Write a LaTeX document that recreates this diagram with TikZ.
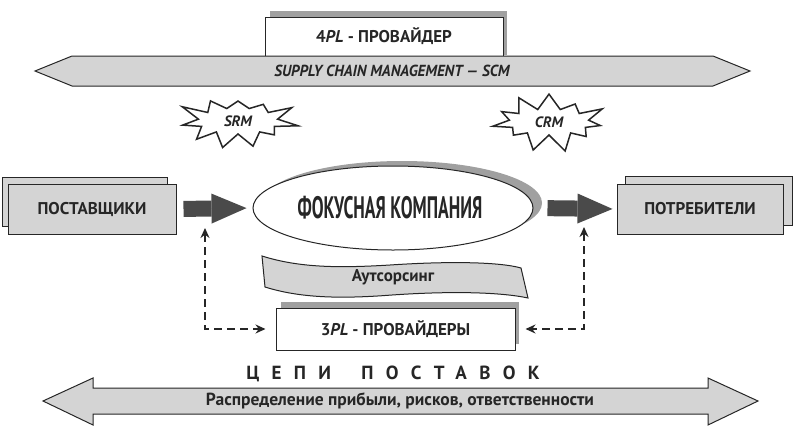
\documentclass[tikz,border=0pt]{standalone}
\usepackage{fontspec}
\setmainfont{PT Sans}
\usepackage{graphicx}
\usetikzlibrary{arrows.meta,shapes.symbols,shapes.geometric}

\definecolor{boxgray}{HTML}{D4D4D4}
\definecolor{shadowgray}{HTML}{A0A0A0}
\definecolor{ink}{HTML}{262626}
\definecolor{arrowgray}{HTML}{4A4A4A}

\begin{document}
\begin{tikzpicture}[x=1pt,y=-1pt,
  lbl/.style={text=ink, font=\fontsize{17}{20}\selectfont\bfseries},
  panel/.style={draw=ink, fill=boxgray, line width=1pt},
  pbox/.style={panel, minimum width=167pt, minimum height=50pt, inner sep=0pt},
  wbox/.style={draw=ink, fill=white, line width=1pt, inner sep=0pt},
  flowarrow/.style={draw=arrowgray, line width=16pt, -{Triangle[length=35pt,width=30pt,line width=0pt]}},
  dashlink/.style={draw=ink, line width=1.4pt, dash pattern=on 8pt off 5pt, {Stealth[length=10pt,width=9pt]}-{Stealth[length=10pt,width=9pt]}},
  burst/.style={starburst, draw=ink, fill=white, line width=1.5pt, minimum width=124pt, minimum height=70pt,
    starburst points=11, starburst point height=22pt, text=ink, font=\fontsize{15}{17}\selectfont\bfseries\itshape, inner sep=0pt}
]
\path[use as bounding box] (0,0) rectangle (793,429);

% 4PL and SCM
\fill[shadowgray] (270,11) rectangle (507,55);
\node[wbox, lbl, minimum width=238pt, minimum height=39pt] (fourpl) at (384,36.5) {4\textit{PL} - ПРОВАЙДЕР};
\draw[panel] (35,71) -- (72,56) -- (713,56) -- (750,71) -- (713,86) -- (72,86) -- cycle;
\node[text=ink] (scm) at (392,71) {\scalebox{0.95}[1]{\fontsize{16}{18}\selectfont\bfseries\itshape SUPPLY CHAIN MANAGEMENT — SCM}};

\node[burst, random starburst=3] (srm) at (238,121) {SRM};
\node[burst, random starburst=8] (crm) at (549,122) {CRM};

% suppliers, focus company, customers
\node[pbox, minimum width=165pt, minimum height=49pt] (supback) at (84.5,201.5) {};
\node[pbox, minimum width=168pt] (sup) at (92,209) {};
\node[lbl] at (sup) {ПОСТАВЩИКИ};
\node[pbox, minimum width=167pt, minimum height=49pt] (conback) at (708.5,200.5) {};
\node[pbox, minimum width=166pt] (con) at (700,209) {};
\node[lbl] at (con) {ПОТРЕБИТЕЛИ};

\fill[shadowgray] (402,203) ellipse [x radius=140, y radius=42];
\node[ellipse, draw=ink, fill=white, line width=1pt, minimum width=280pt, minimum height=84pt, inner sep=0pt] (focus) at (393,208) {};
\node[text=ink] at (390,208) {\scalebox{0.57}[1]{\fontsize{31}{33}\selectfont\bfseries ФОКУСНАЯ КОМПАНИЯ}};

\draw[flowarrow, shorten <=7pt, shorten >=6pt] (sup.east) -- (focus.west);
\draw[flowarrow, shorten <=14pt, shorten >=4pt] (focus.east) -- (con.west);

% outsourcing and 3PL
\draw[panel] (262,256) .. controls (300,268) and (340,268) .. (390,265)
  .. controls (450,261) and (500,262) .. (521,268) -- (528,298)
  .. controls (500,292) and (450,291) .. (392,295)
  .. controls (340,299) and (300,298) .. (265,287) -- cycle;
\node[lbl] (outs) at (393,277) {Аутсорсинг};

\fill[shadowgray] (281,302) rectangle (519,344);
\node[wbox, lbl, minimum width=239pt, minimum height=42pt] (tpl) at (395.5,329) {3\textit{PL} - ПРОВАЙДЕРЫ};

\coordinate (lup) at (205,228);
\coordinate (rup) at (584,227);
\draw[dashlink, shorten >=10pt] (lup) |- (tpl.west);
\draw[dashlink, shorten >=10pt] (rup) |- (tpl.east);

% supply chains
\node[text=ink, font=\fontsize{19}{21}\selectfont\bfseries\addfontfeature{LetterSpace=65}] (chains) at (393,374) {ЦЕПИ\hspace{1.6em}ПОСТАВОК};
\draw[panel] (43,401) -- (93,378) -- (93,388) -- (708,388) -- (708,378) -- (758,401)
  -- (708,425) -- (708,414) -- (93,414) -- (93,425) -- cycle;
\node[lbl, font=\fontsize{17.5}{19}\selectfont\bfseries] (share) at (400,401) {Распределение прибыли, рисков, ответственности};
\end{tikzpicture}
\end{document}
